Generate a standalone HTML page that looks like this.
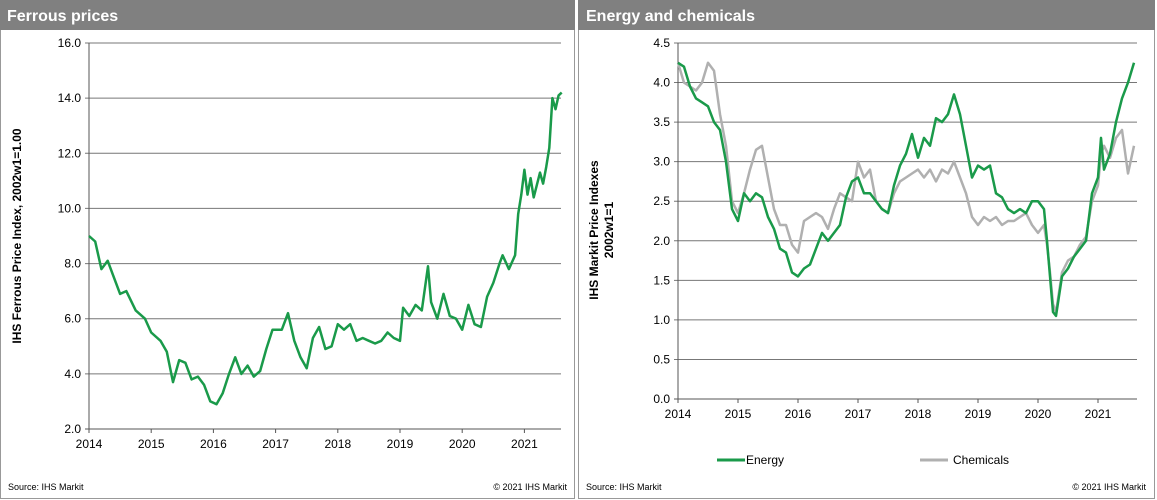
<!DOCTYPE html>
<html><head><meta charset="utf-8"><style>
body{margin:0;background:#fff;font-family:"Liberation Sans",sans-serif;}
svg{display:block}
</style></head><body>
<svg id="s" width="1157" height="500" xmlns="http://www.w3.org/2000/svg" font-family="Liberation Sans, sans-serif">
<rect x="0.5" y="0.5" width="574" height="498" fill="#fff" stroke="#999"/>
<rect x="0" y="0" width="575" height="30" fill="#808080"/>
<text x="7" y="21" fill="#fff" font-size="16" font-weight="bold">Ferrous prices</text>
<rect x="578.5" y="0.5" width="576" height="498" fill="#fff" stroke="#999"/>
<rect x="578" y="0" width="577" height="30" fill="#808080"/>
<text x="586" y="21" fill="#fff" font-size="16" font-weight="bold">Energy and chemicals</text>
<text transform="translate(21,236) rotate(-90)" text-anchor="middle" font-size="12" font-weight="bold">IHS Ferrous Price Index, 2002w1=1.00</text>
<text transform="translate(598,230) rotate(-90)" text-anchor="middle" font-size="12" font-weight="bold">IHS Markit Price Indexes</text>
<text transform="translate(613,230) rotate(-90)" text-anchor="middle" font-size="12" font-weight="bold">2002w1=1</text>
<line x1="717" y1="460" x2="745" y2="460" stroke="#1a9a4a" stroke-width="3"/>
<text x="746" y="464" font-size="12">Energy</text>
<line x1="920" y1="460" x2="948" y2="460" stroke="#b0b0b0" stroke-width="3"/>
<text x="953" y="464" font-size="12">Chemicals</text>
<text x="8" y="490" font-size="9">Source:  IHS Markit</text>
<text x="567" y="490" font-size="9" text-anchor="end">© 2021  IHS Markit</text>
<text x="586" y="490" font-size="9">Source:  IHS Markit</text>
<text x="1146" y="490" font-size="9" text-anchor="end">© 2021  IHS Markit</text>
</svg>
<script>
const years=[2014,2015,2016,2017,2018,2019,2020,2021];
const ferrousTicks=[2,4,6,8,10,12,14,16];
const energyTicks=[0,0.5,1,1.5,2,2.5,3,3.5,4,4.5];
const ferrousT=[2014.0,2014.1,2014.2,2014.3,2014.4,2014.5,2014.6,2014.75,2014.9,2015.0,2015.15,2015.25,2015.35,2015.45,2015.55,2015.65,2015.75,2015.85,2015.95,2016.05,2016.15,2016.25,2016.35,2016.45,2016.55,2016.65,2016.75,2016.85,2016.95,2017.1,2017.2,2017.3,2017.4,2017.5,2017.6,2017.7,2017.8,2017.9,2018.0,2018.1,2018.2,2018.3,2018.4,2018.5,2018.6,2018.7,2018.8,2018.9,2019.0,2019.05,2019.15,2019.25,2019.35,2019.45,2019.5,2019.6,2019.7,2019.8,2019.9,2020.0,2020.1,2020.2,2020.3,2020.4,2020.5,2020.6,2020.65,2020.75,2020.85,2020.9,2020.95,2021.0,2021.05,2021.1,2021.15,2021.25,2021.3,2021.35,2021.4,2021.45,2021.5,2021.55,2021.6];
const ferrousV=[9.0,8.8,7.8,8.1,7.5,6.9,7.0,6.3,6.0,5.5,5.2,4.8,3.7,4.5,4.4,3.8,3.9,3.6,3.0,2.9,3.3,4.0,4.6,4.0,4.3,3.9,4.1,4.9,5.6,5.6,6.2,5.2,4.6,4.2,5.3,5.7,4.9,5.0,5.8,5.6,5.8,5.2,5.3,5.2,5.1,5.2,5.5,5.3,5.2,6.4,6.1,6.5,6.3,7.9,6.6,6.0,6.9,6.1,6.0,5.6,6.5,5.8,5.7,6.8,7.3,8.0,8.3,7.8,8.3,9.8,10.5,11.4,10.5,11.1,10.4,11.3,10.9,11.5,12.2,14.0,13.6,14.1,14.2];
const ecT=[2014.0,2014.1,2014.2,2014.3,2014.4,2014.5,2014.6,2014.7,2014.8,2014.9,2015.0,2015.1,2015.2,2015.3,2015.4,2015.5,2015.6,2015.7,2015.8,2015.9,2016.0,2016.1,2016.2,2016.3,2016.4,2016.5,2016.6,2016.7,2016.8,2016.9,2017.0,2017.1,2017.2,2017.3,2017.4,2017.5,2017.6,2017.7,2017.8,2017.9,2018.0,2018.1,2018.2,2018.3,2018.4,2018.5,2018.6,2018.7,2018.8,2018.9,2019.0,2019.1,2019.2,2019.3,2019.4,2019.5,2019.6,2019.7,2019.8,2019.9,2020.0,2020.1,2020.15,2020.2,2020.25,2020.3,2020.4,2020.5,2020.6,2020.7,2020.8,2020.9,2021.0,2021.05,2021.1,2021.2,2021.3,2021.4,2021.5,2021.6];
const energyV=[4.25,4.2,3.95,3.8,3.75,3.7,3.5,3.4,3.0,2.4,2.25,2.6,2.5,2.6,2.55,2.3,2.15,1.9,1.85,1.6,1.55,1.65,1.7,1.9,2.1,2.0,2.1,2.2,2.55,2.75,2.8,2.6,2.6,2.5,2.4,2.35,2.7,2.95,3.1,3.35,3.05,3.3,3.2,3.55,3.5,3.6,3.85,3.6,3.2,2.8,2.95,2.9,2.95,2.6,2.55,2.4,2.35,2.4,2.35,2.5,2.5,2.4,2.0,1.55,1.1,1.05,1.55,1.65,1.8,1.9,2.0,2.6,2.8,3.3,2.9,3.1,3.5,3.8,4.0,4.25];
const chemicalsV=[4.25,4.0,3.95,3.9,4.0,4.25,4.15,3.6,3.2,2.5,2.35,2.6,2.9,3.15,3.2,2.8,2.4,2.2,2.2,1.95,1.85,2.25,2.3,2.35,2.3,2.15,2.4,2.6,2.55,2.5,3.0,2.8,2.9,2.5,2.4,2.35,2.6,2.75,2.8,2.85,2.9,2.8,2.9,2.75,2.9,2.85,3.0,2.8,2.6,2.3,2.2,2.3,2.25,2.3,2.2,2.25,2.25,2.3,2.35,2.2,2.1,2.2,1.95,1.6,1.2,1.1,1.6,1.75,1.8,1.95,2.05,2.5,2.7,3.1,3.2,3.05,3.3,3.4,2.85,3.2];

const NS='http://www.w3.org/2000/svg';
const svg=document.getElementById('s');
function mk(tag,attrs){const e=document.createElementNS(NS,tag);for(const k in attrs)e.setAttribute(k,attrs[k]);svg.appendChild(e);return e;}

function chart(prefix,x0,pxYear,xEnd,yTop,yBot,ymin,ymax,ticks,fmt,series){
  const X=t=>x0+(t-2014)*pxYear;
  const Y=v=>yBot-(v-ymin)/(ymax-ymin)*(yBot-yTop);
  ticks.forEach(v=>{
    const g=mk('line',{x1:x0-4,x2:xEnd,y1:Y(v),y2:Y(v),stroke:v===ymin?'#555':'#777','stroke-width':1});
    
    
    const t=mk('text',{x:x0-8,y:Y(v)+4,'text-anchor':'end','font-size':12});
    t.textContent=fmt(v);
    
    
  });
  const ax=mk('line',{x1:x0,x2:x0,y1:yTop,y2:yBot,stroke:'#555'});
  
  
  years.forEach(yr=>{
    const tk=mk('line',{x1:X(yr),x2:X(yr),y1:yBot,y2:yBot+4,stroke:'#555'});
    
    
    const t=mk('text',{x:X(yr),y:yBot+19,'text-anchor':'middle','font-size':12});
    t.textContent=yr;
    
    
  });
  series.forEach(s=>{
    const d=s.t.map((t,i)=>(i?'L':'M')+X(t).toFixed(1)+','+Y(s.v[i]).toFixed(1)).join('');
    const p=mk('path',{d:d,fill:'none',stroke:s.c,'stroke-width':2.5,'stroke-linejoin':'round'});
    
    
  });
}
chart('ferrous',89,62.2,561,43,429,2,16,ferrousTicks,v=>v.toFixed(1),[{t:ferrousT,v:ferrousV,c:'#1a9a4a',n:'ferrous-line'}]);
chart('energy',678,60,1137,43,399,0,4.5,energyTicks,v=>v.toFixed(1),[{t:ecT,v:chemicalsV,c:'#b0b0b0',n:'chemicals-line'},{t:ecT,v:energyV,c:'#1a9a4a',n:'energy-line'}]);
</script>
</body></html>
